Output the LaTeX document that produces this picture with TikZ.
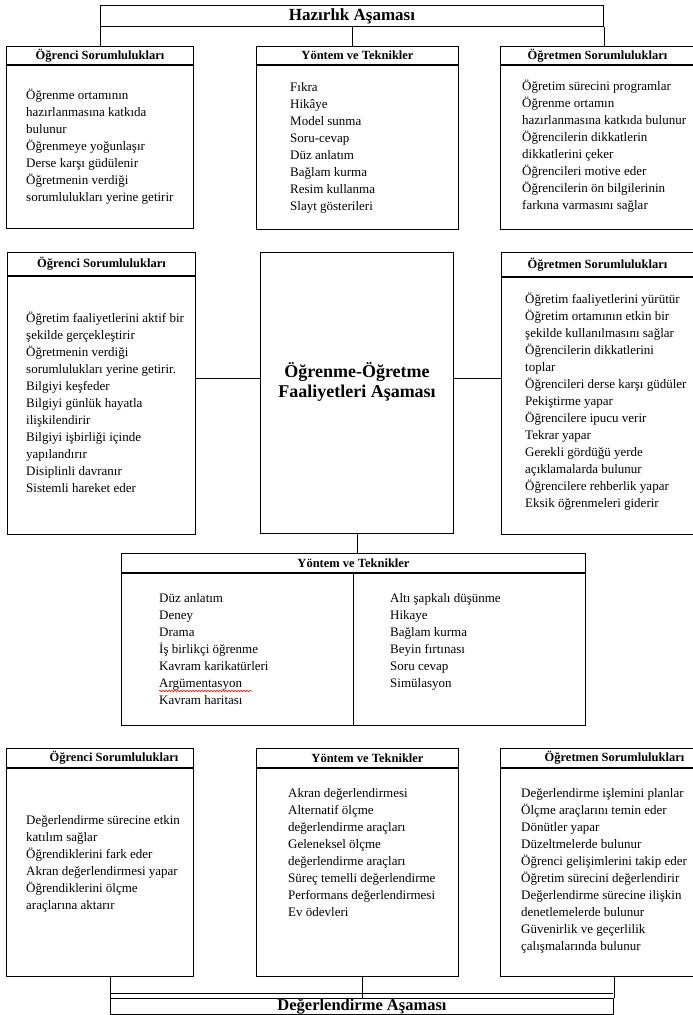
\documentclass[tikz,border=0pt]{standalone}
\usepackage{fontspec}
\setmainfont{Liberation Serif}
\usetikzlibrary{decorations.pathmorphing}

\tikzset{
  kutu/.style={draw, line width=1pt, inner sep=0pt, anchor=north west},
  baslik/.style={kutu, font=\bfseries\fontsize{12.5}{13}\selectfont},
  asama/.style={kutu, font=\bfseries\fontsize{17}{18}\selectfont},
  liste/.style={anchor=north west, inner sep=0pt, align=left, font=\fontsize{13}{17}\selectfont},
  bag/.style={line width=1pt},
}

\begin{document}
\begin{tikzpicture}[x=1pt,y=-1pt]
    \useasboundingbox (0,0) rectangle (693,1015);
    %% Hazirlik
    \node[asama, minimum width=503pt, minimum height=21pt] (hz) at (100,5) {Hazırlık Aşaması};
    %% 1. sira
    \node[baslik, minimum width=187pt, minimum height=18pt] (ogr1h) at (6,46) {Öğrenci Sorumlulukları};
    \node[kutu, minimum width=187pt, minimum height=163pt] (ogr1) at (ogr1h.south west) {};
    \node[baslik, minimum width=202pt, minimum height=18pt] (yon1h) at (256,46) {Yöntem ve Teknikler};
    \node[kutu, minimum width=202pt, minimum height=164pt] (yon1) at (yon1h.south west) {};
    \node[baslik, minimum width=202pt, minimum height=18pt] (ogt1h) at (500,46) {\hspace*{-8pt}Öğretmen Sorumlulukları};
    \node[kutu, minimum width=202pt, minimum height=164pt] (ogt1) at (ogt1h.south west) {};
    \draw[bag] (hz.south west) -- (hz.south west |- ogr1h.north);
    \draw[bag] (hz.south) -- (hz.south |- yon1h.north);
    \draw[bag] (hz.south east) -- (hz.south east |- ogt1h.north);
    \node[liste] (ogr1l) at (26,89) {Öğrenme ortamının\\hazırlanmasına katkıda\\bulunur\\Öğrenmeye yoğunlaşır\\Derse karşı güdülenir\\Öğretmenin verdiği\\sorumlulukları yerine getirir};
    \node[liste] (yon1l) at (290,82) {Fıkra\\Hikâye\\Model sunma\\Soru-cevap\\Düz anlatım\\Bağlam kurma\\Resim kullanma\\Slayt gösterileri};
    \node[liste] (ogt1l) at (522,80) {Öğretim sürecini programlar\\Öğrenme ortamın\\hazırlanmasına katkıda bulunur\\Öğrencilerin dikkatlerin\\dikkatlerini çeker\\Öğrencileri motive eder\\Öğrencilerin ön bilgilerinin\\farkına varmasını sağlar};
    %% 2. sira
    \node[baslik, minimum width=188pt, minimum height=23pt] (ogr2h) at (7,252) {Öğrenci Sorumlulukları};
    \node[kutu, minimum width=188pt, minimum height=258pt] (ogr2) at (ogr2h.south west) {};
    \node[kutu, minimum width=193pt, minimum height=281pt] (faal) at (260,252) {};
    \node[font=\bfseries\fontsize{18}{20}\selectfont, align=center, inner sep=0pt] (faalt) at (357,382) {Öğrenme-Öğretme\\Faaliyetleri Aşaması};
    \node[baslik, minimum width=202pt, minimum height=24pt] (ogt2h) at (501,252) {\hspace*{-10pt}Öğretmen Sorumlulukları};
    \node[kutu, minimum width=202pt, minimum height=257pt] (ogt2) at (ogt2h.south west) {};
    \coordinate (orta) at ([yshift=14.5pt]faal.west);
    \coordinate (orta2) at ([yshift=14.5pt]faal.east);
    \draw[bag] (orta -| ogr2.east) -- (orta);
    \draw[bag] (orta2) -- (orta2 -| ogt2.west);
    \node[liste] (ogr2l) at (26,312) {Öğretim faaliyetlerini  aktif bir\\şekilde gerçekleştirir\\Öğretmenin verdiği\\sorumlulukları yerine getirir.\\Bilgiyi keşfeder\\Bilgiyi günlük hayatla\\ilişkilendirir\\Bilgiyi işbirliği içinde\\yapılandırır\\Disiplinli davranır\\Sistemli hareket eder};
    \node[liste] (ogt2l) at (525,293) {Öğretim faaliyetlerini  yürütür\\Öğretim ortamının etkin bir\\şekilde kullanılmasını sağlar\\Öğrencilerin dikkatlerini\\toplar\\Öğrencileri derse karşı güdüler\\Pekiştirme yapar\\Öğrencilere ipucu verir\\Tekrar yapar\\Gerekli gördüğü yerde\\açıklamalarda bulunur\\Öğrencilere rehberlik yapar\\Eksik öğrenmeleri giderir};
    %% 3. sira
    \node[baslik, minimum width=464pt, minimum height=19pt] (yon2h) at (121,553) {Yöntem ve Teknikler};
    \node[kutu, minimum width=464pt, minimum height=152pt] (yon2) at (yon2h.south west) {};
    \draw[bag] (faal.south) -- (faal.south |- yon2h.north);
    \draw[bag] (yon2h.south) -- (yon2.south);
    \node[liste] (yon2a) at (159,593) {Düz anlatım\\Deney\\Drama\\İş birlikçi öğrenme\\Kavram karikatürleri\\Argümentasyon\\Kavram haritası};
    \node[liste] (yon2b) at (390,593) {Altı şapkalı düşünme\\Hikaye\\Bağlam kurma\\Beyin fırtınası\\Soru cevap\\Simülasyon};
    \draw[red, line width=0.6pt, decorate, decoration={snake, amplitude=0.8pt, segment length=3pt}] (159,691) -- (252,691);
    %% 4. sira
    \node[baslik, minimum width=187pt, minimum height=19pt] (ogr4h) at (6,748) {\hspace*{28pt}Öğrenci Sorumlulukları};
    \node[kutu, minimum width=187pt, minimum height=208pt] (ogr4) at (ogr4h.south west) {};
    \node[baslik, minimum width=202pt, minimum height=19pt] (yon4h) at (256,748) {\hspace*{20pt}Yöntem ve Teknikler};
    \node[kutu, minimum width=202pt, minimum height=208pt] (yon4) at (yon4h.south west) {};
    \node[baslik, minimum width=202pt, minimum height=19pt] (ogt4h) at (500,748) {\hspace*{26pt}Öğretmen Sorumlulukları};
    \node[kutu, minimum width=202pt, minimum height=208pt] (ogt4) at (ogt4h.south west) {};
    \node[liste] (ogr4l) at (26,815) {Değerlendirme sürecine etkin\\katılım sağlar\\Öğrendiklerini fark eder\\Akran değerlendirmesi yapar\\Öğrendiklerini ölçme\\araçlarına aktarır};
    \node[liste] (yon4l) at (288,788) {Akran değerlendirmesi\\Alternatif ölçme\\değerlendirme araçları\\Geleneksel ölçme\\değerlendirme araçları\\Süreç temelli değerlendirme\\Performans değerlendirmesi\\Ev ödevleri};
    \node[liste] (ogt4l) at (521,788) {Değerlendirme işlemini planlar\\Ölçme araçlarını temin eder\\Dönütler yapar\\Düzeltmelerde bulunur\\Öğrenci gelişimlerini takip eder\\Öğretim sürecini değerlendirir\\Değerlendirme sürecine ilişkin\\denetlemelerde bulunur\\Güvenirlik ve geçerlilik\\çalışmalarında bulunur};
    %% Degerlendirme
    \node[asama, minimum width=503pt, minimum height=16.5pt, font=\bfseries\fontsize{16.5}{18}\selectfont] (dg) at (110,997.5) {\raisebox{-1pt}{Değerlendirme Aşaması}};
    \coordinate (bagsol) at (110,993);
    \coordinate (bagsag) at (613,993);
    \draw[bag] (bagsol) -- (bagsag);
    \draw[bag] (dg.north west) -- (dg.north west |- ogr4.south);
    \draw[bag] (dg.north) -- (dg.north |- yon4.south);
    \draw[bag] (dg.north east) -- (dg.north east |- ogt4.south);
\end{tikzpicture}
\end{document}
